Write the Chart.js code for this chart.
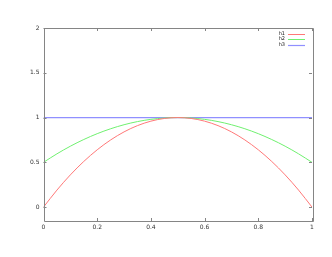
<!DOCTYPE html>
<html>
<head>
<meta charset="utf-8">
<script src="https://cdn.jsdelivr.net/npm/chart.js@4.4.1/dist/chart.umd.min.js"></script>
<style>
  html, body { margin: 0; padding: 0; background: #fff; }
</style>
</head>
<body>
<canvas id="chart" width="332" height="257"></canvas>
<script>
// values
const xs = [0, 0.05, 0.1, 0.15, 0.2, 0.25, 0.3, 0.35, 0.4, 0.45, 0.5, 0.55, 0.6, 0.65, 0.7, 0.75, 0.8, 0.85, 0.9, 0.95, 1];
const h1 = [0, 0.19, 0.36, 0.51, 0.64, 0.75, 0.84, 0.91, 0.96, 0.99, 1, 0.99, 0.96, 0.91, 0.84, 0.75, 0.64, 0.51, 0.36, 0.19, 0];
const h2 = [0.5, 0.595, 0.68, 0.755, 0.82, 0.875, 0.92, 0.955, 0.98, 0.995, 1, 0.995, 0.98, 0.955, 0.92, 0.875, 0.82, 0.755, 0.68, 0.595, 0.5];
const h3 = [1, 1, 1, 1, 1, 1, 1, 1, 1, 1, 1, 1, 1, 1, 1, 1, 1, 1, 1, 1, 1];
const seriesNames = ['h1', 'h2', 'h3'];
const seriesColors = ['#ff7878', '#70f070', '#9090ff'];
const seriesWidths = [1, 1, 1.2];
const xTicks = [0, 0.2, 0.4, 0.6, 0.8, 1];
const yTicks = [0, 0.5, 1, 1.5, 2];

const frameColor = '#858585';
const tickFont = { family: 'DejaVu Sans', size: 6 };

function pts(ys) {
  return xs.map((x, i) => ({ x: x, y: ys[i] }));
}

// gnuplot-like frame with inward ticks on all sides, plus legend inside top-right
const framePlugin = {
  id: 'frame',
  afterDatasetsDraw(chart) {
    const ctx = chart.ctx;
    const a = chart.chartArea;
    const sx = chart.scales.x, sy = chart.scales.y;
    ctx.save();
    ctx.strokeStyle = frameColor;
    ctx.lineWidth = 1;
    ctx.beginPath();
    ctx.rect(Math.round(a.left) + 0.5, Math.round(a.top) + 0.5, Math.round(a.right - a.left), Math.round(a.bottom - a.top));
    ctx.stroke();
    const t = 3;
    ctx.beginPath();
    xTicks.forEach(v => {
      const px = Math.round(sx.getPixelForValue(v)) + 0.5;
      ctx.moveTo(px, a.bottom); ctx.lineTo(px, a.bottom - t);
      ctx.moveTo(px, a.top); ctx.lineTo(px, a.top + t);
    });
    yTicks.forEach(v => {
      const py = Math.round(sy.getPixelForValue(v)) + 0.5;
      ctx.moveTo(a.left, py); ctx.lineTo(a.left + t, py);
      ctx.moveTo(a.right, py); ctx.lineTo(a.right - t, py);
    });
    ctx.stroke();

    // legend
    ctx.font = '5px "DejaVu Sans"';
    ctx.textAlign = 'right';
    ctx.textBaseline = 'middle';
    chart.data.datasets.forEach((ds, i) => {
      const y = a.top + 5.5 + i * 5.7;
      ctx.fillStyle = '#222';
      ctx.fillText(ds.label, a.right - 27, y);
      ctx.strokeStyle = seriesColors[i];
      ctx.lineWidth = seriesWidths[i];
      ctx.beginPath();
      ctx.moveTo(a.right - 24, Math.round(y) + 0.5);
      ctx.lineTo(a.right - 7, Math.round(y) + 0.5);
      ctx.stroke();
    });
    ctx.restore();
  }
};

new Chart(document.getElementById('chart'), {
  type: 'line',
  data: {
    datasets: [h1, h2, h3].map((ys, i) => ({
      label: seriesNames[i],
      data: pts(ys),
      borderColor: seriesColors[i],
      borderWidth: seriesWidths[i],
      pointRadius: 0,
      fill: false,
      cubicInterpolationMode: 'monotone'
    }))
  },
  options: {
    responsive: false,
    animation: false,
    layout: { padding: { top: 28, right: 20, left: 0, bottom: 0 } },
    plugins: { legend: { display: false }, tooltip: { enabled: false } },
    scales: {
      x: {
        type: 'linear',
        min: 0,
        max: 1,
        afterBuildTicks: s => { s.ticks = xTicks.map(v => ({ value: v })); },
        afterFit: s => { s.height = 36; },
        grid: { display: false, drawTicks: false },
        border: { display: false },
        ticks: { font: tickFont, color: '#333', padding: 3, maxRotation: 0, callback: v => String(v) }
      },
      y: {
        min: -0.155,
        max: 2,
        afterBuildTicks: s => { s.ticks = yTicks.map(v => ({ value: v })); },
        afterFit: s => { s.width = 43.5; },
        grid: { display: false, drawTicks: false },
        border: { display: false },
        ticks: { font: tickFont, color: '#333', padding: 4, callback: v => String(v) }
      }
    }
  },
  plugins: [framePlugin]
});
</script>
</body>
</html>
